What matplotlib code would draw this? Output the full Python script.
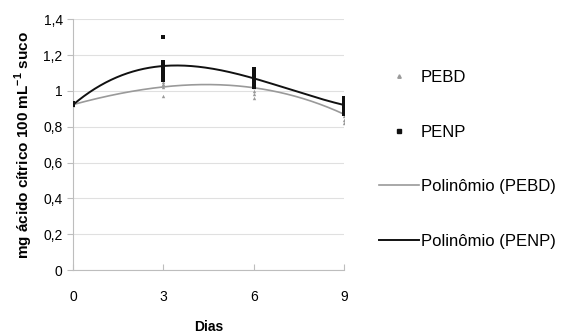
import matplotlib.pyplot as plt
import numpy as np
from matplotlib.lines import Line2D

# Data ------------------------
days = [0, 3, 6, 9]

pebd = {
    0: [0.92, 0.92, 0.93],
    3: [1.05, 1.04, 1.03, 1.02, 0.97],
    6: [1.06, 1.05, 1.04, 1.03, 1.02, 1.00, 0.98, 0.96],
    9: [0.92, 0.90, 0.88, 0.86, 0.84, 0.82],
}
penp = {
    0: [0.92, 0.92, 0.93, 0.92],
    3: [1.30, 1.16, 1.15, 1.14, 1.12, 1.10, 1.08, 1.06],
    6: [1.12, 1.10, 1.08, 1.07, 1.06, 1.04, 1.02],
    9: [0.96, 0.95, 0.94, 0.93, 0.92, 0.91, 0.89, 0.87],
}

y_ticks = [0, 0.2, 0.4, 0.6, 0.8, 1.0, 1.2, 1.4]
y_labels = ['0', '0,2', '0,4', '0,6', '0,8', '1', '1,2', '1,4']

pebd_color = '#9a9a9a'
penp_color = '#111111'


def flatten(groups):
    xs, ys = [], []
    for d in days:
        xs += [d] * len(groups[d])
        ys += groups[d]
    return np.array(xs, float), np.array(ys, float)


plt.rcParams['font.family'] = ['Liberation Sans', 'DejaVu Sans']
plt.rcParams['mathtext.fontset'] = 'custom'
plt.rcParams['mathtext.bf'] = 'Liberation Sans:bold'
plt.rcParams['mathtext.rm'] = 'Liberation Sans:bold'

fig = plt.figure(figsize=(5.62, 3.36), dpi=100)
ax = fig.add_axes([0.13, 0.196, 0.482, 0.747])

x_pebd, y_pebd = flatten(pebd)
x_penp, y_penp = flatten(penp)

# Trend lines (polynomial fits) -----
xx = np.linspace(0, 9, 200)
fit_pebd = np.polyval(np.polyfit(x_pebd, y_pebd, 3), xx)
fit_penp = np.polyval(np.polyfit(x_penp, y_penp, 3), xx)

ax.plot(xx, fit_pebd, color=pebd_color, lw=1.2, zorder=3)
ax.plot(xx, fit_penp, color=penp_color, lw=1.4, zorder=3)

ax.scatter(x_pebd, y_pebd, marker='^', s=6, color=pebd_color, zorder=4, linewidths=0)
ax.scatter(x_penp, y_penp, marker='s', s=6, color=penp_color, zorder=5, linewidths=0)

ax.set_xlim(0, 9)
ax.set_ylim(0, 1.4)
ax.set_xticks(days)
ax.set_yticks(y_ticks)
ax.set_yticklabels(y_labels)
ax.yaxis.grid(True, color='#e0e0e0', lw=0.8)
ax.set_axisbelow(True)

for s in ['top', 'right']:
    ax.spines[s].set_visible(False)
for s in ['left', 'bottom']:
    ax.spines[s].set_color('#bdbdbd')
ax.tick_params(axis='x', direction='in', length=4, color='#bdbdbd', pad=14, labelsize=10)
ax.tick_params(axis='y', direction='out', length=4, color='#bdbdbd', labelsize=10)

ax.set_xlabel('Dias', fontweight='bold', fontsize=10, labelpad=12)
ax.set_ylabel(r'mg ácido cítrico 100 mL$^{\mathrm{-1}}$ suco', fontweight='bold',
              fontsize=11, labelpad=6)

# Legend -----
handles = [
    Line2D([], [], ls='none', marker='^', ms=2.5, color=pebd_color),
    Line2D([], [], ls='none', marker='s', ms=2.5, color=penp_color),
    Line2D([], [], color=pebd_color, lw=1.2),
    Line2D([], [], color=penp_color, lw=1.4),
]
labels = ['PEBD', 'PENP', 'Polinômio (PEBD)', 'Polinômio (PENP)']
fig.legend(handles, labels, loc='upper left', bbox_to_anchor=(0.648, 0.836),
           frameon=False, fontsize=12, labelspacing=2.37, handlelength=2.4,
           handletextpad=0.1, markerfirst=True)

fig.savefig('out.png', dpi=100)
